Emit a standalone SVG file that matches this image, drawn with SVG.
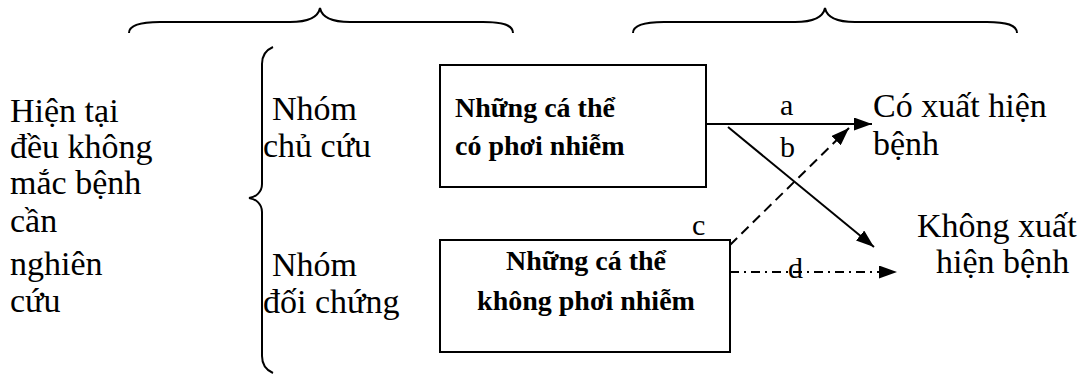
<svg xmlns="http://www.w3.org/2000/svg" width="1082" height="374" viewBox="0 0 1082 374">
<defs>
<style>
.t{font-family:"Liberation Serif","Times New Roman",serif;font-size:34px;fill:#000}
.b{font-family:"Liberation Serif","Times New Roman",serif;font-size:28px;font-weight:bold;fill:#000}
.l{font-family:"Liberation Serif","Times New Roman",serif;font-size:30px;fill:#000}
.br{fill:none;stroke:#000;stroke-width:2}
.box{fill:#fff;stroke:#000;stroke-width:2}
.c{fill:none;stroke:#000;stroke-width:2}
</style>
<marker id="ah" markerWidth="10" markerHeight="8" refX="10" refY="4" orient="auto" markerUnits="userSpaceOnUse" viewBox="0 0 10 8">
<path d="M0,0 L10,4 L0,8 Z" fill="#000"/>
</marker>
<marker id="ah2" markerWidth="18" markerHeight="13" refX="18" refY="6.5" orient="auto" markerUnits="userSpaceOnUse" viewBox="0 0 18 13">
<path d="M0,0 L18,6.5 L0,13 Z" fill="#000"/>
</marker>
</defs>
<g id="brace-top-left"><path class="br" d="M129,33 C129,25 140,22 160,22 L290,22 C308,22 318,18 320,8 C322,18 332,22 350,22 L483,22 C503,22 513,25 513,33"/></g>
<g id="brace-top-right"><path class="br" d="M633,33 C633,25 644,22 664,22 L795,22 C813,22 823,18 825,8 C827,18 837,22 855,22 L987,22 C1007,22 1017,25 1017,33"/></g>
<g id="brace-left"><path class="br" d="M273,47 C266,50 262,55 262,64 L262,184 C262,192 256,197 249,198 C256,199 262,204 262,212 L262,356 C262,365 266,370 273,373"/></g>
<g id="population">
<text class="t" x="10" y="122">Hiện tại</text>
<text class="t" x="10" y="158">đều không</text>
<text class="t" x="10" y="194">mắc bệnh</text>
<text class="t" x="10" y="232">cần</text>
<text class="t" x="10" y="275">nghiên</text>
<text class="t" x="10" y="312">cứu</text>
</g>
<g id="group-case">
<text class="t" x="272" y="120">Nhóm</text>
<text class="t" x="263" y="157">chủ cứu</text>
</g>
<g id="group-control">
<text class="t" x="272" y="276">Nhóm</text>
<text class="t" x="263" y="313">đối chứng</text>
</g>
<g id="exposed">
<rect class="box" x="440" y="65" width="266" height="122"/>
<text class="b" x="455" y="117">Những cá thể</text>
<text class="b" x="455" y="155">có phơi nhiễm</text>
</g>
<g id="unexposed">
<rect class="box" x="440" y="240" width="290" height="112"/>
<text class="b" x="586" y="270" text-anchor="middle">Những cá thể</text>
<text class="b" x="586" y="310" text-anchor="middle">không phơi nhiễm</text>
</g>
<g id="outcome-yes">
<text class="t" x="873" y="117">Có xuất hiện</text>
<text class="t" x="873" y="155">bệnh</text>
</g>
<g id="outcome-no">
<text class="t" x="917" y="237">Không xuất</text>
<text class="t" x="936" y="273">hiện bệnh</text>
</g>
<g id="connectors">
<line class="c" x1="706" y1="124" x2="872" y2="124" marker-end="url(#ah2)"/>
<line class="c" x1="728" y1="127" x2="874" y2="247" marker-end="url(#ah2)"/>
<line class="c" x1="730" y1="245" x2="849" y2="128" stroke-dasharray="10,6" marker-end="url(#ah2)"/>
<line class="c" x1="730" y1="272" x2="897" y2="272" stroke-dasharray="9,5,2,5" marker-end="url(#ah2)"/>
<text class="l" x="780" y="115">a</text>
<text class="l" x="780" y="157">b</text>
<text class="l" x="692" y="235">c</text>
<text class="l" x="788" y="278">d</text>
</g>
</svg>
